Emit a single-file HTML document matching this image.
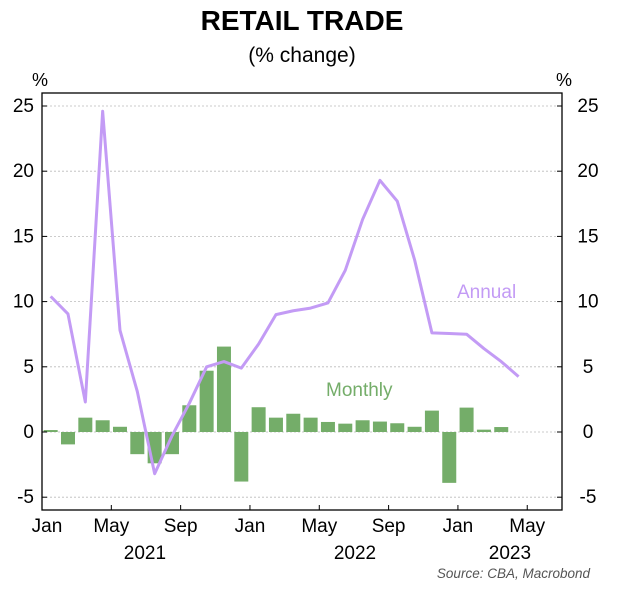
<!DOCTYPE html>
<html><head><meta charset="utf-8"><style>
body{margin:0;background:#fff;}
svg text{font-family:"Liberation Sans",sans-serif;}
</style></head><body>
<svg id="chart" width="632" height="598" xmlns="http://www.w3.org/2000/svg">
<text x="302" y="30" text-anchor="middle" font-size="28" font-weight="bold">RETAIL TRADE</text>
<text x="302" y="62" text-anchor="middle" font-size="21">(% change)</text>
<text x="40" y="86" text-anchor="middle" font-size="18">%</text>
<text x="564" y="86" text-anchor="middle" font-size="18">%</text>
<g id="grid"></g><g id="bars"></g><g id="line"></g><g id="axes"></g>
<text x="457" y="298" font-size="19" fill="#c39bf5">Annual</text>
<text x="326" y="396" font-size="19" fill="#74ad69">Monthly</text>
<text x="590" y="578" text-anchor="end" font-size="13.5" font-style="italic" fill="#555">Source: CBA, Macrobond</text>
</svg>
<script>
const monthly=[0.15,-0.95,1.1,0.9,0.4,-1.7,-2.4,-1.7,2.05,4.7,6.55,-3.8,1.9,1.1,1.4,1.1,0.77,0.64,0.9,0.8,0.67,0.4,1.64,-3.9,1.87,0.18,0.38];
const annual=[10.4,9.05,2.3,24.6,7.8,3.1,-3.2,-0.3,2.2,5.0,5.4,4.9,6.75,9.0,9.3,9.5,9.9,12.4,16.3,19.3,17.7,13.2,7.6,7.55,7.5,6.4,5.4,4.25];
const yTicks=[-5,0,5,10,15,20,25];
const xTickLabels=["Jan","May","Sep","Jan","May","Sep","Jan","May"];
const yearLabels=[["2021",5.94],["2022",18.06],["2023",27.0]];
const NS="http://www.w3.org/2000/svg";
const L=42,R=562,T=93,B=510;
const xm=m=>L+m*17.33;
const y=v=>432-v*13.04;
function mk(tag,attrs,parent){const e=document.createElementNS(NS,tag);for(const k in attrs)e.setAttribute(k,attrs[k]);document.getElementById(parent).appendChild(e);return e;}
yTicks.forEach(t=>{
 const g=mk('line',{x1:L,x2:R,y1:y(t),y2:y(t),stroke:'#bbb','stroke-dasharray':'2,2','stroke-width':0.8},'grid');
 
 
 const a=mk('text',{x:L-8,y:y(t)+6,'text-anchor':'end','font-size':19},'axes');a.textContent=t;
 
 
 const b=mk('text',{x:R+26,y:y(t)+6,'text-anchor':'middle','font-size':19},'axes');b.textContent=t;
 
 
 const t1=mk('line',{x1:L,x2:L+5,y1:y(t),y2:y(t),stroke:'#000'},'axes');
 
 
 const t2=mk('line',{x1:R-5,x2:R,y1:y(t),y2:y(t),stroke:'#000'},'axes');
 
 
});
monthly.forEach((v,i)=>{
 const cx=xm(i+0.5);
 const r=mk('rect',{x:cx-7,y:Math.min(y(v),y(0)),width:14,height:Math.abs(y(v)-y(0)),fill:'#74ad69'},'bars');
 
 
});
const p=mk('polyline',{points:annual.map((v,i)=>xm(i+0.5)+','+y(v)).join(' '),fill:'none',stroke:'#c39bf5','stroke-width':3,'stroke-linejoin':'round'},'line');


const box=mk('rect',{x:L,y:T,width:R-L,height:B-T,fill:'none',stroke:'#000','stroke-width':1.3},'axes');


xTickLabels.forEach((s,i)=>{
 const x=xm(i*4);
 const tk=mk('line',{x1:x,x2:x,y1:B,y2:B-5,stroke:'#000'},'axes');
 
 
 const t=mk('text',{x:x+(i==0?5:0),y:B+22,'text-anchor':'middle','font-size':19},'axes');t.textContent=s;
 
 
});
yearLabels.forEach(([s,m])=>{
 const t=mk('text',{x:xm(m),y:B+49,'text-anchor':'middle','font-size':19},'axes');t.textContent=s;
 
 
});
</script>
</body></html>
